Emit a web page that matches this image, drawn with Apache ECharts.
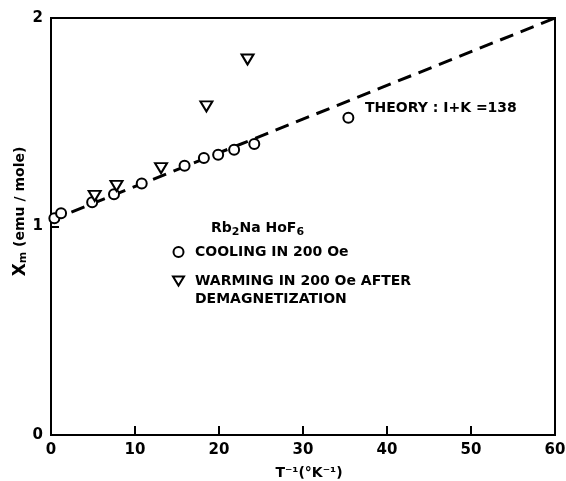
<!DOCTYPE html>
<html>
<head>
<meta charset="utf-8">
<script src="https://cdn.jsdelivr.net/npm/echarts@6/dist/echarts.min.js"></script>
<style>
  html, body { margin: 0; padding: 0; background: #fff; }
  #main { width: 566px; height: 481px; }
</style>
</head>
<body>
<div id="main"></div>
<script>
// cooling in 200 Oe (circles)
var coolX = [0.4, 1.2, 4.9, 7.5, 10.8, 15.9, 18.2, 19.9, 21.8, 24.2, 35.4];
var coolY = [1.04, 1.063, 1.116, 1.155, 1.206, 1.291, 1.328, 1.344, 1.368, 1.396, 1.522];
// warming after demagnetization (triangles)
var warmX = [5.2, 7.8, 13.1, 18.5, 23.4];
var warmY = [1.147, 1.195, 1.28, 1.576, 1.801];
// theory line 1+K = 138
var theoryX = [0, 60];
var theoryY = [1.03, 2.0];
var xTicks = [0, 10, 20, 30, 40, 50, 60];
var yTicks = [0, 1, 2];

var coolName = 'COOLING IN 200 Oe';
var warmName = 'WARMING IN 200 Oe AFTER\nDEMAGNETIZATION';

var font = 'DejaVu Sans';

function pairs(xs, ys) {
    var out = [];
    for (var i = 0; i < xs.length; i++) {
        out.push([xs[i], ys[i]]);
    }
    return out;
}

var myChart = echarts.init(document.getElementById('main'));

var option = {
    backgroundColor: '#fff',
    animation: false,
    grid: {
        left: 51, right: 11, top: 18, bottom: 46,
        outerBoundsMode: 'none',
        containLabel: false,
        show: true, borderColor: '#000', borderWidth: 2
    },
    xAxis: {
        type: 'value',
        min: 0, max: 60, interval: 10,
        name: 'T\u207B\u00B9(\u00B0K\u207B\u00B9)',
        nameLocation: 'middle',
        nameGap: 31,
        nameTextStyle: { fontFamily: font, fontWeight: 'bold', fontSize: 14, color: '#000', padding: [0, 0, 0, 12] },
        axisLine: { lineStyle: { color: '#000', width: 2 } },
        axisTick: { inside: true, length: 9, lineStyle: { color: '#000', width: 2 } },
        axisLabel: {
            margin: 8, fontFamily: font, fontWeight: 'bold', fontSize: 15, color: '#000',
            formatter: function (v) { return xTicks.indexOf(v) >= 0 ? String(v) : ''; }
        },
        splitLine: { show: false }
    },
    yAxis: {
        type: 'value',
        min: 0, max: 2, interval: 1,
        name: '{x|X}{m|m} (emu / mole)',
        nameLocation: 'middle',
        nameGap: 22,
        nameMoveOverlap: false,
        nameTextStyle: {
            fontFamily: font, fontWeight: 'bold', fontSize: 14, color: '#000',
            padding: [0, 0, 0, 30],
            rich: {
                x: { fontFamily: font, fontWeight: 'bold', fontSize: 17, color: '#000' },
                m: { fontFamily: font, fontWeight: 'bold', fontSize: 11, color: '#000', padding: [6, 0, 0, 0] }
            }
        },
        axisLine: { lineStyle: { color: '#000', width: 2 } },
        axisTick: { inside: true, length: 8, lineStyle: { color: '#000', width: 2 } },
        axisLabel: {
            margin: 8, fontFamily: font, fontWeight: 'bold', fontSize: 15, color: '#000',
            formatter: function (v) { return yTicks.indexOf(v) >= 0 ? String(v) : ''; }
        },
        splitLine: { show: false }
    },
    legend: {
        orient: 'vertical',
        left: 172,
        top: 243,
        padding: 0,
        itemGap: -7,
        itemWidth: 11,
        itemHeight: 10,
        textStyle: { fontFamily: font, fontWeight: 'bold', fontSize: 14, color: '#000', lineHeight: 18, padding: [0, 0, 0, 6] },
        formatter: function (name) {
            // blank first line keeps the icon level with the first text line
            return name === warmName ? ' \n' + name : name;
        },
        data: [
            { name: coolName },
            { name: warmName, icon: 'path://M0,0 L12,0 L6,10 Z' }
        ]
    },
    graphic: [
        {
            type: 'text', left: 211, top: 218,
            style: {
                text: '{n|Rb}{s|2}{n|Na HoF}{s|6}',
                rich: {
                    n: { fontFamily: font, fontWeight: 'bold', fontSize: 14, fill: '#000', lineHeight: 20 },
                    s: { fontFamily: font, fontWeight: 'bold', fontSize: 11, fill: '#000', lineHeight: 20, padding: [9, 0, 0, 0] }
                }
            }
        },
        {
            type: 'text', left: 365, top: 101,
            style: {
                text: 'THEORY : I+K =138',
                font: 'bold 14px "DejaVu Sans"',
                fill: '#000'
            }
        }
    ],
    series: [
        {
            name: 'THEORY',
            type: 'line',
            data: pairs(theoryX, theoryY),
            showSymbol: false,
            lineStyle: { color: '#000', width: 3, type: [14, 8] },
            z: 1
        },
        {
            name: coolName,
            type: 'scatter',
            data: pairs(coolX, coolY),
            symbol: 'circle',
            symbolSize: 10,
            itemStyle: { color: '#fff', borderColor: '#000', borderWidth: 2, opacity: 1 },
            z: 3
        },
        {
            name: warmName,
            type: 'scatter',
            data: pairs(warmX, warmY),
            symbol: 'triangle',
            symbolRotate: 180,
            symbolSize: [12, 10],
            itemStyle: { color: '#fff', borderColor: '#000', borderWidth: 2, opacity: 1 },
            z: 3
        }
    ]
};

myChart.setOption(option);
</script>
</body>
</html>
